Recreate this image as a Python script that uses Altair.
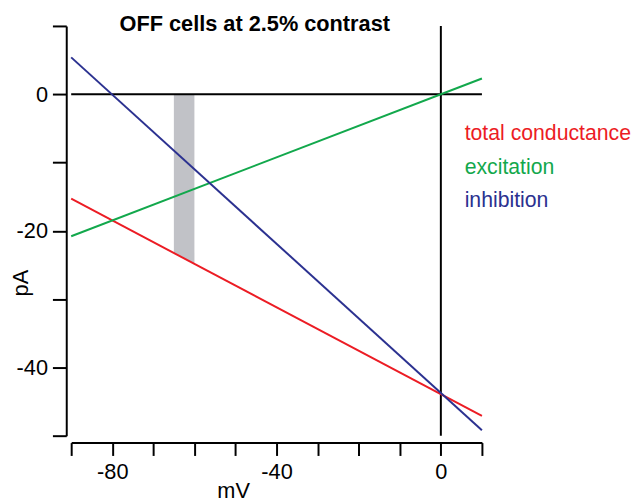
import altair as alt
import pandas as pd

# ---- data ----
series = ["total conductance", "excitation", "inhibition"]
colors = ["#ec1c24", "#12a84c", "#2b3190"]
x_ends = [-90, 10]                 # mV at the two ends of each line
y_at_start = [-15.3, -20.8, 5.4]   # pA at -90 mV
y_at_end = [-47.1, 2.3, -49.2]     # pA at +10 mV

band_x = [-65, -60]
band_top = [0, 0]
band_bottom = [-23.2, -24.8]

x_ticks = list(range(-90, 11, 10))
y_ticks = list(range(-50, 11, 10))

rows = []
for s, y0, y1 in zip(series, y_at_start, y_at_end):
    rows.append({"series": s, "mV": x_ends[0], "pA": y0})
    rows.append({"series": s, "mV": x_ends[1], "pA": y1})
lines_df = pd.DataFrame(rows)
band_df = pd.DataFrame({"mV": band_x, "top": band_top, "bottom": band_bottom})
zero_df = pd.DataFrame({"v": [0]})

font = "Liberation Sans"
xscale = alt.Scale(domain=[-90, 10], nice=False, zero=False)
yscale = alt.Scale(domain=[-50, 10], nice=False, zero=False)

x_axis = alt.Axis(
    values=x_ticks, labelExpr="datum.value % 40 == 0 ? '' + datum.value : ''",
    title="mV", offset=7, tickSize=13, tickWidth=2, domainWidth=2,
    domainColor="black", tickColor="black", labelColor="black",
    labelFont=font, labelFontSize=22, labelPadding=6, grid=False,
    titleFont=font, titleFontSize=22, titleFontWeight="normal", titleColor="black",
    titleX=164, titleY=56, titleAlign="center", titleBaseline="alphabetic",
    labelFlush=False, labelOverlap=False,
)
y_axis = alt.Axis(
    values=y_ticks, labelExpr="datum.value % 20 == 0 ? '' + datum.value : ''",
    title="pA", offset=5, tickSize=14, tickWidth=2, domainWidth=2,
    domainColor="black", tickColor="black", labelColor="black",
    labelFont=font, labelFontSize=22, labelPadding=5, grid=False,
    titleFont=font, titleFontSize=22, titleFontWeight="normal", titleColor="black",
    titleX=-39, titleY=260, titleAlign="center", titleBaseline="alphabetic",
    titleAngle=270, labelFlush=False, labelOverlap=False,
)

band = alt.Chart(band_df).mark_area(color="#c1c2c7", opacity=1).encode(
    x=alt.X("mV:Q", scale=xscale, axis=x_axis),
    y=alt.Y("bottom:Q", scale=yscale, axis=y_axis),
    y2="top:Q",
)

hrule = alt.Chart(zero_df).mark_rule(color="black", strokeWidth=2).encode(
    y=alt.Y("v:Q", scale=yscale, axis=y_axis)
)
vrule = alt.Chart(zero_df).mark_rule(color="black", strokeWidth=2).encode(
    x=alt.X("v:Q", scale=xscale, axis=x_axis)
)

label_color = alt.expr(
    "datum.label == 'total conductance' ? '%s' : datum.label == 'excitation' ? '%s' : '%s'"
    % (colors[0], colors[1], colors[2])
)

lines = alt.Chart(lines_df).mark_line(strokeWidth=2).encode(
    x=alt.X("mV:Q", scale=xscale, axis=x_axis),
    y=alt.Y("pA:Q", scale=yscale, axis=y_axis),
    color=alt.Color(
        "series:N",
        scale=alt.Scale(domain=series, range=colors),
        legend=alt.Legend(
            title=None, orient="none", legendX=377, legendY=99,
            symbolSize=0, symbolOpacity=0, symbolStrokeWidth=0,
            labelFont=font, labelFontSize=21.5, labelOffset=0, labelLimit=400,
            rowPadding=11, padding=0, labelColor=label_color,
        ),
    ),
    detail="series:N",
)

chart = alt.layer(band, hrule, vrule, lines).properties(
    width=416, height=415, autosize="none",
    padding={"left": 64, "top": 15, "right": 152, "bottom": 65},
    title=alt.Title(
        "OFF cells at 2.5% contrast", font=font, fontSize=22, fontWeight="bold",
        anchor="start", dx=49, dy=38, frame="group", color="black",
        baseline="alphabetic", offset=0,
    ),
).configure_view(stroke=None)

chart.save("out.html", embed_options={"renderer": "svg", "actions": False})
